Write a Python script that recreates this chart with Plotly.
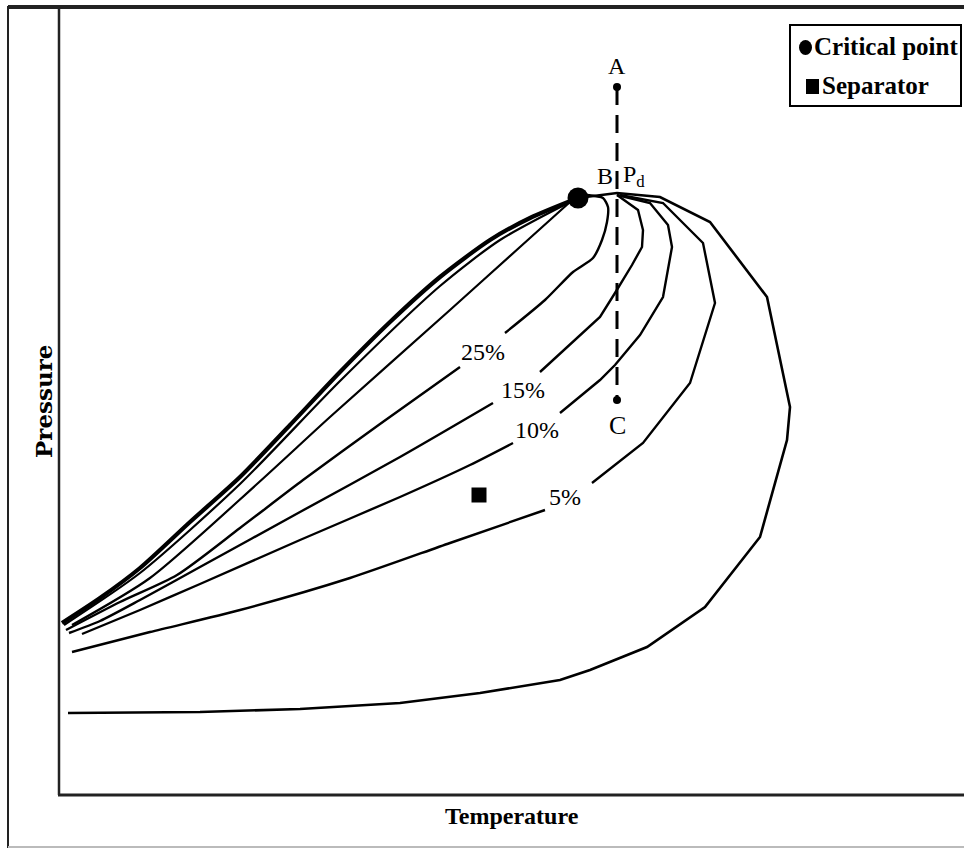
import plotly.graph_objects as go

# ---- data (Temperature / Pressure in arbitrary diagram units) ----
bubble_T = [3, 41, 81, 131, 181, 231, 281, 331, 381, 431, 471, 519]
bubble_P = [172, 197, 227, 273, 318, 370, 423, 473, 518, 555, 577, 597]

q75_T = [5, 81, 181, 281, 381, 441, 519]
q75_P = [170, 222, 311, 414, 509, 555, 597]

q50_T = [13, 91, 198, 271, 391, 461, 511]
q50_P = [170, 217, 311, 378, 485, 548, 593]

q25_left_T = [7, 61, 118, 181, 244, 321, 401]
q25_left_P = [165, 193, 220, 267, 315, 371, 428]
q25_right_T = [446, 486, 514, 534, 543, 548, 549, 544, 528]
q25_right_P = [462, 495, 523, 537, 555, 573, 588, 597, 600]

q15_left_T = [10, 41, 81, 141, 241, 341, 434]
q15_left_P = [162, 174, 195, 228, 283, 338, 392]
q15_right_T = [481, 541, 556, 573, 583, 584, 579, 558]
q15_right_P = [423, 478, 502, 530, 548, 565, 585, 600]

q10_left_T = [23, 81, 141, 241, 341, 411, 454]
q10_left_P = [161, 185, 211, 255, 298, 330, 352]
q10_right_T = [501, 541, 556, 581, 604, 613, 609, 591, 558]
q10_right_P = [382, 415, 430, 460, 498, 548, 570, 592, 600]

q05_left_T = [13, 91, 181, 291, 391, 486]
q05_left_P = [143, 163, 185, 217, 252, 285]
q05_right_T = [533, 584, 631, 656, 644, 604, 561]
q05_right_P = [312, 352, 412, 492, 552, 592, 600]

dew_T = [9, 141, 241, 341, 421, 501, 531, 588, 646, 701, 728, 731, 708, 651, 601, 558, 519]
dew_P = [82, 83, 86, 92, 102, 115, 125, 148, 188, 258, 355, 388, 498, 573, 598, 602, 597]

critical_T, critical_P = [519], [597]
separator_T, separator_P = [420], [300]
path_T = [558, 558]           # isothermal path A -> C
path_P = [708, 395]
path_labels = ["A", "C"]

quality_labels = ["25%", "15%", "10%", "5%"]
quality_label_T = [424, 464, 478, 506]
quality_label_P = [443, 405, 365, 298]

X_RANGE = [0, 905]
Y_RANGE = [0, 785]

FONT = "Liberation Serif"
W, H = 964, 850
ML, MR, MT, MB = 59, 0, 10, 55

fig = go.Figure()

def curve(T, P, width=2.4, shape="spline", smoothing=0.7):
    fig.add_trace(go.Scatter(
        x=T, y=P, mode="lines", showlegend=False, hoverinfo="skip",
        line=dict(color="black", width=width, shape=shape,
                  smoothing=smoothing if shape == "spline" else None)))

curve(bubble_T, bubble_P, width=4.2)
curve(q75_T, q75_P, width=2.2)
curve(q50_T, q50_P, width=2.2)
curve(q25_left_T, q25_left_P)
curve(q25_right_T, q25_right_P, smoothing=0.6)
curve(q15_left_T, q15_left_P)
curve(q15_right_T, q15_right_P, shape="linear")
curve(q10_left_T, q10_left_P)
curve(q10_right_T, q10_right_P, shape="linear")
curve(q05_left_T, q05_left_P)
curve(q05_right_T, q05_right_P, shape="linear")
curve(dew_T, dew_P, width=2.6, shape="linear")

# isothermal path A-C
fig.add_trace(go.Scatter(
    x=path_T, y=path_P, mode="lines+markers", showlegend=False, hoverinfo="skip",
    line=dict(color="black", width=3, dash="18px,10px"),
    marker=dict(color="black", size=8)))

# critical point and separator
fig.add_trace(go.Scatter(x=critical_T, y=critical_P, mode="markers", showlegend=False,
                         marker=dict(symbol="circle", size=21, color="black")))
fig.add_trace(go.Scatter(x=separator_T, y=separator_P, mode="markers", showlegend=False,
                         marker=dict(symbol="square", size=15, color="black")))

ann = []
for lab, t, p in zip(quality_labels, quality_label_T, quality_label_P):
    ann.append(dict(x=t, y=p, text=lab, showarrow=False,
                    font=dict(family=FONT, size=24, color="black")))
ann.append(dict(x=path_T[0], y=path_P[0] + 21, text=path_labels[0], showarrow=False,
                font=dict(family=FONT, size=24, color="black")))
ann.append(dict(x=path_T[1], y=path_P[1] - 25, text=path_labels[1], showarrow=False,
                font=dict(family=FONT, size=26, color="black")))
ann.append(dict(x=path_T[0] - 12, y=critical_P[0] + 22, text="B", showarrow=False,
                font=dict(family=FONT, size=24, color="black")))
ann.append(dict(x=path_T[0] + 17, y=critical_P[0] + 22, text="P<sub>d</sub>", showarrow=False,
                font=dict(family=FONT, size=24, color="black")))

def px(x):
    return (x - ML) / (W - ML - MR)

def py(y):
    return (H - MB - y) / (H - MT - MB)

# axis titles
ann.append(dict(xref="paper", yref="paper", x=px(512), y=py(816),
                xanchor="center", yanchor="middle", text="Temperature",
                showarrow=False, font=dict(family=FONT, size=24, color="black", weight="bold")))
ann.append(dict(xref="paper", yref="paper", x=px(43), y=py(402),
                xanchor="center", yanchor="middle", text="Pressure",
                textangle=-90, showarrow=False,
                font=dict(family="DejaVu Serif", size=23, color="black", weight="bold")))

# legend
ann.append(dict(xref="paper", yref="paper", x=px(812), y=py(47), xanchor="left",
                yanchor="middle", text="Critical point", showarrow=False,
                font=dict(family=FONT, size=25, color="black", weight="bold")))
ann.append(dict(xref="paper", yref="paper", x=px(820), y=py(86), xanchor="left",
                yanchor="middle", text="Separator", showarrow=False,
                font=dict(family=FONT, size=25, color="black", weight="bold")))

shapes = []
# legend box
shapes.append(dict(type="rect", xref="paper", yref="paper",
                   x0=px(790), x1=px(961), y0=py(25), y1=py(106),
                   line=dict(color="black", width=2), fillcolor="white", layer="below"))
shapes.append(dict(type="circle", xref="paper", yref="paper",
                   x0=px(799), x1=px(812), y0=py(40), y1=py(55),
                   line=dict(width=0), fillcolor="black"))
shapes.append(dict(type="rect", xref="paper", yref="paper",
                   x0=px(806), x1=px(819), y0=py(79), y1=py(94),
                   line=dict(width=0), fillcolor="black"))
# plot frame
shapes.append(dict(type="line", xref="paper", yref="paper",
                   x0=px(59), x1=px(59), y0=py(8), y1=py(795),
                   line=dict(color="#222", width=2.5)))
shapes.append(dict(type="line", xref="paper", yref="paper",
                   x0=px(58), x1=px(964), y0=py(795), y1=py(795),
                   line=dict(color="#222", width=3)))
# outer frame
shapes.append(dict(type="line", xref="paper", yref="paper",
                   x0=px(8), x1=px(964), y0=py(7), y1=py(7),
                   line=dict(color="#222", width=4)))
shapes.append(dict(type="line", xref="paper", yref="paper",
                   x0=px(8), x1=px(8), y0=py(6), y1=py(848),
                   line=dict(color="#222", width=2)))
shapes.append(dict(type="line", xref="paper", yref="paper",
                   x0=px(8), x1=px(964), y0=py(847), y1=py(847),
                   line=dict(color="#bbb", width=2)))

fig.update_layout(
    width=W, height=H,
    margin=dict(l=ML, r=MR, t=MT, b=MB),
    paper_bgcolor="white", plot_bgcolor="white",
    xaxis=dict(range=X_RANGE, showgrid=False, zeroline=False, showticklabels=False,
               ticks="", showline=False, fixedrange=True),
    yaxis=dict(range=Y_RANGE, showgrid=False, zeroline=False, showticklabels=False,
               ticks="", showline=False, fixedrange=True),
    annotations=ann, shapes=shapes, showlegend=False,
)

fig.write_html("out.html", config={"displayModeBar": False})
